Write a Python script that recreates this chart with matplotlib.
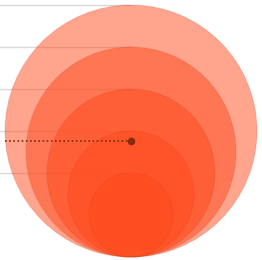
import numpy as np
import matplotlib
matplotlib.use("Agg")
import matplotlib.pyplot as plt
from matplotlib.patches import Circle

# data
values = [36, 25, 16, 9, 4]          # bubble sizes (area-proportional)
highlight_level = 5.52               # dotted marker level
fill_color = "#FF4A1C"

radii = [np.sqrt(v) for v in values]
rmax = max(radii)

fig = plt.figure(figsize=(2.62, 2.60), dpi=100)
ax = fig.add_axes([0, 0, 1, 1])
ax.set_xlim(-6.238, 6.238)
ax.set_ylim(-0.143, 12.238)
ax.axis("off")

# guide lines from left edge to top of each circle
for r in radii:
    ax.plot([-6.238, 0], [2 * r, 2 * r], color="#d9d9d9", lw=1.0, zorder=1)

for r in radii:
    ax.add_patch(Circle((0, r), r, facecolor=fill_color, alpha=0.5,
                        edgecolor="none", zorder=2))
    ax.add_patch(Circle((0, r), r, facecolor="none", edgecolor="#C8401A",
                        alpha=0.18, lw=0.8, zorder=3))

# dotted highlight line
xs = -np.sqrt(rmax**2 - (highlight_level - rmax) ** 2)
ax.plot([xs, 0], [highlight_level, highlight_level], color="#7a2a10",
        lw=1.2, ls=(0, (1, 1.5)), zorder=4)
ax.plot([0], [highlight_level], "o", color="#8a2a0c", ms=4.5, zorder=5)

fig.savefig("out.png", dpi=100)
